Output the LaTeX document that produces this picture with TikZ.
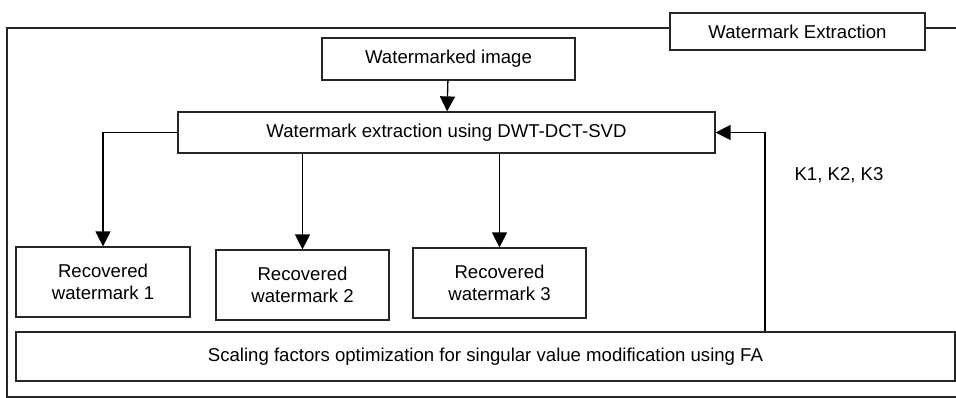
\documentclass[tikz,border=0pt]{standalone}
\usepackage{fontspec}
\setmainfont{Liberation Sans}
\usetikzlibrary{arrows.meta}
\begin{document}
\begin{tikzpicture}[x=1pt,y=-1pt,
  box/.style={draw=black!85, line width=1.2pt, minimum width=#1, inner sep=0pt, align=center,
    font=\fontsize{18.6}{21.4}\selectfont},
  arr/.style={line width=1.3pt, -{Triangle[length=15pt,width=15pt]}},
  ln/.style={line width=1.3pt}]
\useasboundingbox (0,0) rectangle (956,398);
\begin{scope}
\clip (0,0) rectangle (956,398);
\coordinate (fl) at (7,28);
\draw[ln, draw=black!85] (960,28) -- (fl) -- (7,397) -- (960,397);
\end{scope}
\node[box=255pt, minimum height=37pt, fill=white] (title) at (797.5,31.5) {Watermark Extraction};
\node[box=253pt, minimum height=42pt] (wimg) at (448.5,59) {Watermarked image};
\node[box=537pt, minimum height=41pt] (dwt) at (446.5,132.5) {Watermark extraction using DWT-DCT-SVD};
\node[box=174pt, minimum height=70pt] (r1) at (103,282) {Recovered\\watermark 1};
\node[box=173pt, minimum height=70pt] (r2) at (302.5,285) {Recovered\\watermark 2};
\node[box=173pt, minimum height=70pt] (r3) at (499.5,283) {Recovered\\watermark 3};
\node[box=939pt, minimum height=49pt] (sc) at (485.5,356.5) {Scaling factors optimization for singular value modification using FA};
\node[font=\fontsize{18.6}{21.4}\selectfont, inner sep=0pt] (klab) at (839,175) {K1, K2, K3};
\coordinate (fbx) at (765,0);
\draw[arr] (wimg) -- (dwt);
\draw[arr] (dwt.west) -| (r1.north);
\draw[arr] (dwt.south -| r2.north) -- (r2.north);
\draw[arr] (dwt.south -| r3.north) -- (r3.north);
\draw[arr] (sc.north -| fbx) |- (dwt.east);
\end{tikzpicture}
\end{document}
